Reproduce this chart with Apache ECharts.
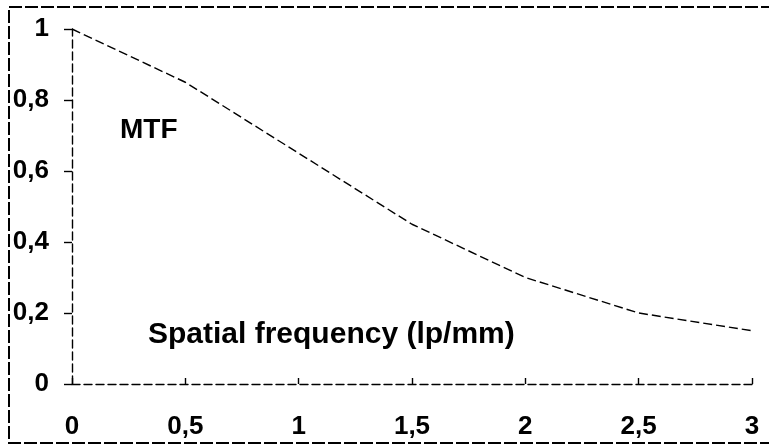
<!DOCTYPE html>
<html>
<head>
<meta charset="utf-8">
<script src="https://cdn.jsdelivr.net/npm/echarts@6/dist/echarts.min.js"></script>
<style>html,body{margin:0;padding:0;background:#fff}#c{width:769px;height:446px}</style>
</head>
<body>
<div id="c"></div>
<script>
const frequency = [0, 0.5, 1, 1.5, 2, 2.5, 3];
const mtfValues = [1.0, 0.85, 0.65, 0.45, 0.30, 0.20, 0.15];
const yLabelText = 'MTF';
const xLabelText = 'Spatial frequency (lp/mm)';

const chart = echarts.init(document.getElementById('c'));
const fmt = v => String(v).replace('.', ',');
const font = 'Liberation Sans, Arial, sans-serif';
chart.setOption({
  animation: false,
  backgroundColor: '#fff',
  grid: { left: 72, right: 17, top: 29, bottom: 62, containLabel: false },
  xAxis: {
    type: 'value', min: 0, max: 3, interval: 0.5,
    axisLine: { show: true, lineStyle: { color: '#000', width: 1.4, type: [8, 4] } },
    axisTick: { show: true, inside: true, length: 6, lineStyle: { color: '#000', width: 1.4 } },
    splitLine: { show: false },
    axisLabel: { formatter: fmt, color: '#000', fontFamily: font, fontWeight: 'bold', fontSize: 26, margin: 30 }
  },
  yAxis: {
    type: 'value', min: 0, max: 1, interval: 0.2,
    axisLine: { show: true, lineStyle: { color: '#000', width: 1.4, type: [8, 4] } },
    axisTick: { show: true, inside: false, length: 8, lineStyle: { color: '#000', width: 1.4 } },
    splitLine: { show: false },
    axisLabel: { formatter: fmt, color: '#000', fontFamily: font, fontWeight: 'bold', fontSize: 26, margin: 23 }
  },
  series: [{
    type: 'line',
    data: frequency.map((f, i) => [f, mtfValues[i]]),
    symbol: 'none',
    lineStyle: { color: '#000', width: 1.4, type: [9, 4] }
  }],
  graphic: [
    { type: 'rect', shape: { x: 9, y: 7, width: 780, height: 436 },
      style: { fill: 'none', stroke: '#000', lineWidth: 2, lineDash: [13, 3] }, silent: true },
    { type: 'text', left: 120, top: 116,
      style: { text: yLabelText, font: 'bold 28px ' + font, fill: '#000' } },
    { type: 'text', left: 148, top: 320,
      style: { text: xLabelText, font: 'bold 30px ' + font, fill: '#000' } }
  ]
});
</script>
</body>
</html>
